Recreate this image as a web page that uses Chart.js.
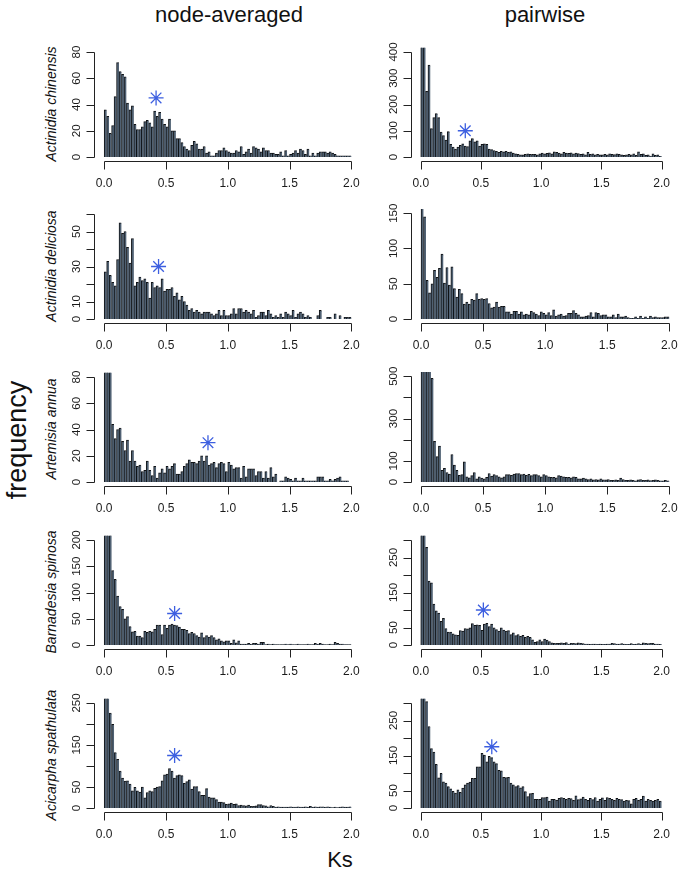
<!DOCTYPE html>
<html><head><meta charset="utf-8">
<script src="https://cdn.jsdelivr.net/npm/chart.js@4.4.1/dist/chart.umd.min.js"></script>
<style>
html,body{margin:0;padding:0;background:#fff;}
body{width:680px;height:875px;position:relative;overflow:hidden;font-family:"Liberation Sans",Arial,sans-serif;color:#111;}
canvas{position:absolute;}
.t{position:absolute;white-space:nowrap;transform:translate(-50%,-50%);line-height:1;}
.r{transform:translate(-50%,-50%) rotate(-90deg);}
</style></head><body>
<div class="t" style="left:229px;top:15px;font-size:22px;">node-averaged</div>
<div class="t" style="left:545px;top:15px;font-size:22px;">pairwise</div>
<div class="t r" style="left:17px;top:440px;font-size:27px;">frequency</div>
<div class="t" style="left:340px;top:860px;font-size:22px;">Ks</div>
<div id="species"></div>
<script>
// ---- data (counts per 0.02 Ks bin, 0 to 2) ----
const species = ["Actinidia chinensis","Actinidia deliciosa","Artemisia annua","Barnadesia spinosa","Acicarpha spathulata"];
const xTickValues = [0, 0.5, 1, 1.5, 2];
const xTickLabels = ["0.0","0.5","1.0","1.5","2.0"];

const chinensisNode = [36,31,18,24,46,72,65,63,61,41, 36,39,25,21,21,23,27,28,26,23, 35,31,34,29,25,23,29,20,20,14, 14,11,8,6,5,9,12,10,6,6, 8,3,4,1,1,3,5,5,7,5, 4,3,3,5,4,8,2,4,6,3, 8,7,6,4,7,5,5,3,3,2, 2,4,1,5,1,2,3,5,3,6, 5,2,6,1,3,1,3,4,4,4, 3,4,3,2,1,1,1,1,1,1];
const chinensisPair = [520,480,250,350,108,150,165,150,95,82, 65,97,48,38,30,38,45,50,42,40, 62,70,58,62,42,48,50,48,30,28, 25,22,18,22,20,22,18,20,15,12, 10,8,8,10,12,10,10,10,8,12, 15,12,14,16,12,20,18,15,12,18, 15,14,16,12,15,13,10,12,8,18, 10,12,8,10,8,8,10,8,12,10, 9,12,10,8,6,8,10,8,12,6, 20,10,12,6,8,4,12,6,8,3];
const deliciosaNode = [27,33,25,21,19,34,55,49,50,41, 32,46,19,21,24,22,23,21,12,21, 18,19,18,23,16,17,17,18,13,15, 11,13,10,8,5,6,4,5,4,3, 4,4,4,3,2,3,5,2,5,2, 2,3,6,3,6,6,4,5,4,3, 5,1,2,4,4,2,5,3,1,2, 1,3,1,4,3,2,5,1,3,4, 3,1,2,1,0,0,2,5,0,0, 1,1,0,3,0,2,0,1,1,1];
const deliciosaPair = [160,145,55,37,50,69,59,72,92,51, 73,48,74,43,31,42,36,21,24,21, 28,27,36,28,29,28,29,22,16,17, 24,17,18,18,10,10,7,11,11,7, 10,6,7,6,11,9,7,5,10,8, 6,9,5,13,4,6,7,4,5,8, 8,12,8,6,3,3,4,5,9,3, 9,8,5,6,6,3,3,6,2,7, 3,3,4,2,1,1,3,1,4,1, 3,1,4,2,3,2,2,2,3,3];
const annuaNode = [95,90,85,44,33,40,41,31,24,32, 16,24,16,12,13,8,9,16,9,5, 12,3,7,10,7,12,10,12,14,6, 6,8,12,14,17,15,15,14,16,20, 16,20,13,14,15,11,14,15,14,8, 15,13,10,11,11,3,12,4,10,10, 10,5,8,8,3,8,3,11,4,6, 0,1,1,4,3,2,1,3,1,1, 3,1,1,1,1,1,4,4,4,1, 1,2,1,2,3,4,1,1,1,0];
const annuaPair = [600,580,560,540,490,192,120,170,55,65, 45,38,130,80,55,32,35,95,25,20, 30,45,15,25,18,15,22,40,28,35, 30,25,20,25,35,35,32,38,40,40, 35,38,32,36,30,35,35,30,25,35, 30,25,22,22,20,30,28,25,22,22, 20,25,22,15,15,18,15,12,15,10, 12,10,15,10,10,12,8,8,10,8, 18,12,8,8,10,8,5,10,12,8, 8,10,7,8,10,8,6,5,8,6];
const spinosaNode = [260,230,210,142,125,93,73,68,50,54, 35,25,26,17,17,14,26,24,26,25, 30,38,38,20,38,32,38,40,38,37, 34,30,30,28,22,24,22,18,15,23, 14,18,15,18,14,10,12,8,6,8, 8,3,10,4,8,2,2,2,3,2, 3,3,2,5,5,1,2,1,2,1, 1,1,1,2,1,2,1,1,2,1, 1,1,2,1,1,3,2,3,2,1, 1,2,1,5,3,2,2,1,1,1];
const spinosaPair = [340,320,279,183,178,117,98,91,68,76, 47,37,37,32,29,28,41,40,47,46, 49,61,56,58,56,42,60,62,53,60, 49,44,40,49,43,40,41,30,35,27, 30,25,28,22,25,22,15,8,10,15, 10,17,14,10,6,5,5,5,6,5, 7,3,5,5,4,6,5,4,3,3, 2,3,3,2,3,2,2,3,3,5, 4,3,3,4,3,2,2,4,2,3, 4,3,6,5,4,5,5,3,3,2];
const spathulataNode = [290,270,226,199,132,116,88,71,64,65, 57,41,49,41,38,50,24,37,41,39, 47,50,51,65,79,81,94,88,71,77, 79,77,59,63,67,45,51,51,39,30, 30,46,26,24,24,20,14,14,13,9, 10,12,9,10,6,7,6,5,7,4, 4,5,8,8,6,5,3,6,4,2, 3,2,2,2,2,3,2,2,3,2, 2,3,2,4,2,3,2,3,3,2, 3,2,1,2,1,2,3,2,2,3];
const spathulataPair = [360,330,304,233,170,160,125,86,99,75, 71,61,55,48,43,52,45,57,66,71, 74,85,85,118,118,156,151,132,148,144, 132,127,108,106,88,87,88,71,66,61, 64,58,61,47,33,41,42,25,25,25, 30,30,31,20,25,25,23,28,30,28, 25,28,27,22,35,24,26,31,25,22, 28,24,30,20,25,29,22,30,28,25, 22,28,25,24,20,22,21,12,25,28, 22,25,34,20,25,22,20,22,25,20];

// peak markers (Ks, frequency); null = none
const peakKs   = [0.42, 0.37, 0.44, null, 0.84, null, 0.57, 0.52, 0.57, 0.59];
const peakFreq = [45,   100,  30,   null, 30,   null, 60,   100,  125,  175];

// y-axis limits, ticks and tick labels per panel
const yLimits = [80, 400, 60, 150, 80, 500, 200, 300, 250, 300];
const yTickValues = [
  [0,20,40,60,80],[0,100,200,300,400],
  [0,10,20,30,40,50,60],[0,50,100,150],
  [0,20,40,60,80],[0,100,200,300,400,500],
  [0,50,100,150,200],[0,50,100,150,200,250,300],
  [0,50,100,150,200,250],[0,50,100,150,200,250,300]
];
const yTickLabels = [
  ["0","20","40","60","80"],["0","100","200","300","400"],
  ["0","10","","30","","50",""],["0","50","100","150"],
  ["0","20","40","60","80"],["0","100","","300","","500"],
  ["0","50","100","150","200"],["0","50","","150","","250",""],
  ["0","50","","150","","250"],["0","50","","150","","250",""]
];
const panelData = [chinensisNode, chinensisPair, deliciosaNode, deliciosaPair, annuaNode, annuaPair, spinosaNode, spinosaPair, spathulataNode, spathulataPair];

// bin centres (category positions of the histogram)
const binCenters = Array.from({length:100}, (_, i) => +(0.01 + 0.02*i).toFixed(2));

// ---- layout ----
const rowZero = [157, 319.3, 482.3, 645.3, 808.3];
const FONT = '"Liberation Sans", Arial, sans-serif';

const rAxes = {
  id: 'rAxes',
  afterDraw(chart, args, o) {
    const {ctx, chartArea: a, scales: {x, y}} = chart;
    ctx.save();
    ctx.strokeStyle = '#222'; ctx.fillStyle = '#1a1a1a'; ctx.lineWidth = 1;
    // x axis
    const yb = Math.round(a.bottom) + 0.5;
    ctx.beginPath();
    ctx.moveTo(Math.round(x.getPixelForValue(o.xTicks[0])) + 0.5, yb);
    ctx.lineTo(Math.round(x.getPixelForValue(o.xTicks[o.xTicks.length-1])) + 0.5, yb);
    o.xTicks.forEach(v => { const px = Math.round(x.getPixelForValue(v)) + 0.5; ctx.moveTo(px, yb); ctx.lineTo(px, yb + 8); });
    ctx.stroke();
    ctx.font = '12px ' + FONT; ctx.textAlign = 'center'; ctx.textBaseline = 'middle';
    o.xTicks.forEach((v, i) => ctx.fillText(o.xLabels[i], x.getPixelForValue(v), a.bottom + 22));
    // y axis
    const xl = Math.round(a.left) + 0.5;
    ctx.beginPath();
    ctx.moveTo(xl, Math.round(y.getPixelForValue(o.yTicks[0])) + 0.5);
    ctx.lineTo(xl, Math.round(y.getPixelForValue(o.yTicks[o.yTicks.length-1])) + 0.5);
    o.yTicks.forEach(v => { const py = Math.round(y.getPixelForValue(v)) + 0.5; ctx.moveTo(xl, py); ctx.lineTo(xl - 8, py); });
    ctx.stroke();
    ctx.font = '11.5px ' + FONT;
    o.yTicks.forEach((v, i) => {
      if (!o.yLabels[i]) return;
      ctx.save();
      ctx.translate(a.left - 17.5, y.getPixelForValue(v));
      ctx.rotate(-Math.PI/2);
      ctx.fillText(o.yLabels[i], 0, 0);
      ctx.restore();
    });
    ctx.restore();
  }
};

const spDiv = document.getElementById('species');
species.forEach((s, r) => {
  const d = document.createElement('div');
  d.className = 't r';
  d.style.cssText = `left:51px;top:${rowZero[r]-53}px;font-size:14px;font-style:italic;`;
  d.textContent = s;
  spDiv.appendChild(d);
});

for (let p = 0; p < 10; p++) {
  const r = Math.floor(p / 2), c = p % 2;
  const cv = document.createElement('canvas');
  const left = c === 0 ? 58 : 378, width = c === 0 ? 312 : 302, height = 152;
  cv.width = width; cv.height = height;
  cv.style.left = left + 'px';
  cv.style.top = (rowZero[r] - 118) + 'px';
  cv.style.width = width + 'px'; cv.style.height = height + 'px';
  document.body.appendChild(cv);
  const Y = yLimits[p];
  const datasets = [{
    type: 'bar',
    data: panelData[p].map((v, i) => ({x: binCenters[i], y: v})),
    backgroundColor: '#506173',
    borderColor: '#101316',
    borderWidth: {left: 1, top: 1, right: 0, bottom: 0},
    borderSkipped: false,
    barPercentage: 1, categoryPercentage: 1, grouped: false,
    order: 2
  }];
  if (peakKs[p] !== null) {
    datasets.push({
      type: 'scatter',
      data: [{x: peakKs[p], y: peakFreq[p]}],
      pointStyle: 'star', radius: 7.5, borderColor: '#3d5fe0', borderWidth: 1.3,
      backgroundColor: '#3d5fe0', order: 1
    });
  }
  new Chart(cv, {
    type: 'bar',
    data: {datasets},
    options: {
      responsive: false, animation: false, devicePixelRatio: 1,
      layout: {padding: c === 0 ? {left: 36.3, right: 6.7, top: 8, bottom: 29.77} : {left: 33.1, right: 0.8, top: 8, bottom: 29.77}},
      scales: {
        x: {type: 'linear', min: -0.08, max: 2.08, display: false, offset: false},
        y: {type: 'linear', min: -0.04 * Y, max: 1.04 * Y, display: false}
      },
      plugins: {
        legend: {display: false}, tooltip: {enabled: false},
        rAxes: {xTicks: xTickValues, xLabels: xTickLabels, yTicks: yTickValues[p], yLabels: yTickLabels[p]}
      }
    },
    plugins: [rAxes]
  });
}
</script>
</body></html>
